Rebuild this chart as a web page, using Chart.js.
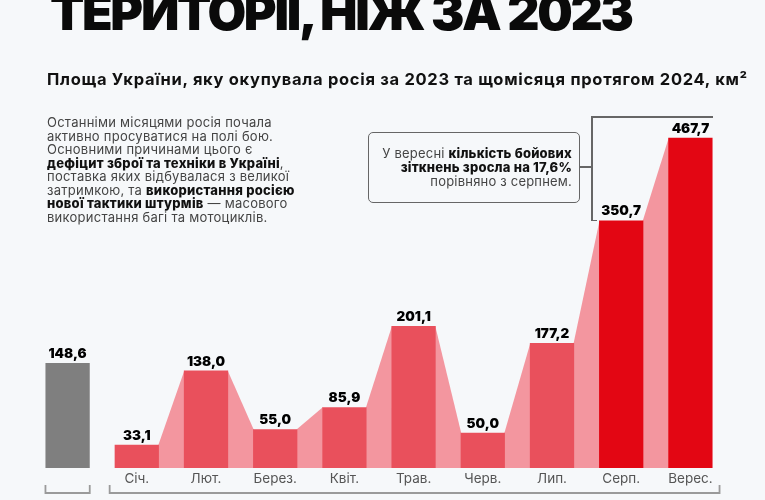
<!DOCTYPE html>
<html><head><meta charset="utf-8">
<script src="https://cdn.jsdelivr.net/npm/chart.js@4/dist/chart.umd.min.js"></script>
<style>
html,body{margin:0;padding:0;}
body{width:765px;height:500px;background:#f6f8fa;position:relative;overflow:hidden;font-family:Inter,"Open Sans",sans-serif;}
#c{position:absolute;left:0;top:0;}
.t{position:absolute;white-space:nowrap;}
#title{left:50px;top:-13px;font-size:50px;font-weight:900;color:#0a0a0a;letter-spacing:-2.3px;line-height:50px;}
#sub{left:47px;top:69px;font-size:16.5px;font-weight:700;color:#111;letter-spacing:0.7px;}
#para{left:47px;top:116px;font-size:13px;line-height:13.5px;color:#444;letter-spacing:0.25px;}
#para b{color:#111;font-weight:800;}
#box{position:absolute;left:368px;top:132px;width:210px;height:69px;border:1.5px solid #666;border-radius:5px;}
#boxt{position:absolute;right:193px;top:146px;text-align:right;font-size:13px;line-height:14px;color:#444;letter-spacing:0.2px;}
#boxt b{color:#111;font-weight:800;}
.ln{position:absolute;background:#666;}
</style></head>
<body>
<canvas id="c" width="765" height="500"></canvas>
<div class="t" id="title">ТЕРИТОРІЇ, НІЖ ЗА 2023</div>
<div class="t" id="sub">Площа України, яку окупувала росія за 2023 та щомісяця протягом 2024, км²</div>
<div class="t" id="para">Останніми місяцями росія почала<br>активно просуватися на полі бою.<br>Основними причинами цього є<br><b>дефіцит зброї та техніки в Україні</b>,<br>поставка яких відбувалася з великої<br>затримкою, та <b>використання росією<br>нової тактики штурмів</b> — масового<br>використання багі та мотоциклів.</div>
<div id="box"></div>
<div class="t" id="boxt">У вересні <b>кількість бойових<br>зіткнень зросла на 17,6%</b><br>порівняно з серпнем.</div>
<div class="ln" style="left:580px;top:166px;width:12px;height:1.5px"></div>
<div class="ln" style="left:591px;top:116px;width:1.5px;height:105px"></div>
<div class="ln" style="left:591px;top:116px;width:122px;height:1.5px"></div>
<div class="ln" style="left:591px;top:219.5px;width:6px;height:1.5px"></div>
<script>
const categories = ['', 'Січ.', 'Лют.', 'Берез.', 'Квіт.', 'Трав.', 'Черв.', 'Лип.', 'Серп.', 'Верес.'];
const periods = ['2023', '2024', '2024', '2024', '2024', '2024', '2024', '2024', '2024', '2024'];
const areaKm2 = [148.6, 33.1, 138.0, 55.0, 85.9, 201.1, 50.0, 177.2, 350.7, 467.7];

const colGray = '#7f7f7f', colCoral = '#e9505c', colRed = '#e30613', colPink = '#f3969f';
const barColors = areaKm2.map((v, i) => periods[i] === '2023' ? colGray : (i >= 8 ? colRed : colCoral));

const fmt = v => v.toFixed(1).replace('.', ',');

const decor = {
  id: 'decor',
  beforeDatasetsDraw(chart) {
    const ctx = chart.ctx;
    const bars = chart.getDatasetMeta(0).data;
    const base = chart.scales.y.getPixelForValue(0);
    ctx.save();
    ctx.fillStyle = colPink;
    for (let i = 1; i < bars.length - 1; i++) {
      if (periods[i] !== periods[i + 1]) continue;
      const a = bars[i], b = bars[i + 1];
      ctx.beginPath();
      ctx.moveTo(a.x + a.width / 2 - 0.5, a.y);
      ctx.lineTo(b.x - b.width / 2 + 0.5, b.y);
      ctx.lineTo(b.x - b.width / 2 + 0.5, base);
      ctx.lineTo(a.x + a.width / 2 - 0.5, base);
      ctx.closePath();
      ctx.fill();
    }
    ctx.restore();
  },
  afterDatasetsDraw(chart) {
    const ctx = chart.ctx;
    const bars = chart.getDatasetMeta(0).data;
    ctx.save();
    ctx.fillStyle = '#000';
    ctx.font = '900 13.5px Inter, "Open Sans", sans-serif';
    ctx.textAlign = 'center';
    ctx.textBaseline = 'alphabetic';
    bars.forEach((b, i) => ctx.fillText(fmt(areaKm2[i]), b.x, b.y - 5));
    ctx.strokeStyle = '#9a9a9a';
    ctx.lineWidth = 1.8;
    const yb = 493, yt = 485;
    const g = bars[0];
    const first = bars[1], last = bars[bars.length - 1];
    const br = (x1, x2) => {
      ctx.beginPath();
      ctx.moveTo(x1, yt); ctx.lineTo(x1, yb); ctx.lineTo(x2, yb); ctx.lineTo(x2, yt);
      ctx.stroke();
    };
    br(g.x - g.width / 2, g.x + g.width / 2);
    br(first.x - first.width / 2 - 5, last.x + last.width / 2 + 7);
    ctx.restore();
  }
};

new Chart(document.getElementById('c'), {
  type: 'bar',
  data: {
    labels: categories,
    datasets: [{
      data: areaKm2,
      backgroundColor: barColors,
      borderWidth: 0,
      barPercentage: 0.64,
      categoryPercentage: 1.0
    }]
  },
  options: {
    responsive: false,
    animation: false,
    devicePixelRatio: 1,
    layout: { padding: { left: 33, right: 40, top: 115, bottom: 0 } },
    plugins: { legend: { display: false }, tooltip: { enabled: false } },
    scales: {
      x: {
        grid: { display: false, drawTicks: false },
        border: { display: false },
        ticks: { color: '#555', font: { family: 'Inter, "Open Sans", sans-serif', size: 13.5 }, padding: 3, maxRotation: 0, autoSkip: false },
        afterFit: (axis) => { axis.height = 32; }
      },
      y: { display: false, min: 0, max: 500 }
    }
  },
  plugins: [decor]
});
</script>
</body></html>
